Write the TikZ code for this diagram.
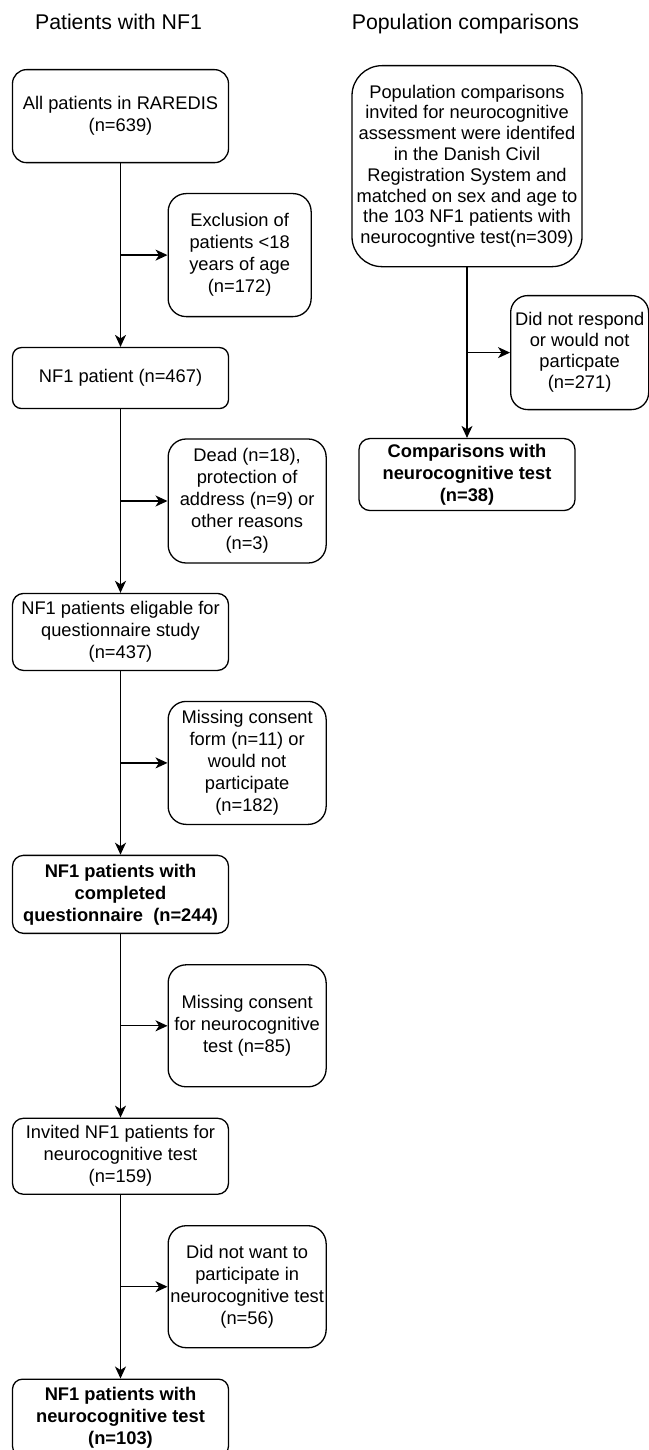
\documentclass[tikz,border=0pt]{standalone}
\usepackage{fontspec}
\setmainfont{Liberation Sans}
\usetikzlibrary{arrows.meta,positioning,calc}

\begin{document}
\begin{tikzpicture}[
  x=1pt, y=1pt,
  >={Stealth[length=12pt,width=11pt,inset=3.5pt]},
  every node/.style={align=center},
  mainbox/.style={rectangle, draw, rounded corners=11pt, minimum width=216pt, inner sep=2pt, line width=1.3pt, font=\fontsize{18.3}{22}\selectfont},
  boldbox/.style={mainbox, font=\fontsize{18.3}{22}\selectfont\bfseries},
  sidebox/.style={rectangle, draw, rounded corners=18pt, minimum width=158pt, inner sep=2pt, line width=1.3pt, font=\fontsize{18.3}{22}\selectfont},
  coltitle/.style={font=\fontsize{21.3}{25}\selectfont, anchor=base},
  flow/.style={->, line width=1.3pt},
  node distance=183.6pt
]
  \useasboundingbox (0,0) rectangle (648,-1450);

  % Patients with NF1 (left column)
  \node[coltitle] (ltitle) at (118.5,-30) {Patients with NF1};
  \node[mainbox, minimum height=93pt, rounded corners=14pt, anchor=north] (all) at (120.5,-69) {All patients in RAREDIS\\(n=639)};
  \node[mainbox, minimum height=61pt, rounded corners=9pt, below=of all] (nf1) {NF1 patient (n=467)};
  \node[mainbox, minimum height=77pt, below=of nf1] (elig) {NF1 patients eligable for\\questionnaire study\\(n=437)};
  \node[boldbox, minimum height=78pt, below=of elig] (quest) {NF1 patients with\\completed\\questionnaire\ \ (n=244)};
  \node[mainbox, minimum height=76pt, below=of quest] (invit) {Invited NF1 patients for\\neurocognitive test\\(n=159)};
  \node[boldbox, minimum height=77pt, rounded corners=10pt, below=of invit] (neuro) {NF1 patients with\\neurocognitive test\\(n=103)};

  % Exclusions (side boxes)
  \coordinate (j1) at ($(all.south)!0.5!(nf1.north)$);
  \coordinate (j2) at ($(nf1.south)!0.5!(elig.north)$);
  \coordinate (j3) at ($(elig.south)!0.5!(quest.north)$);
  \coordinate (j4) at ($(quest.south)!0.5!(invit.north)$);
  \coordinate (j5) at ($(invit.south)!0.5!(neuro.north)$);
  \node[sidebox, minimum width=143pt, minimum height=123pt, right=47pt of j1] (excl) {Exclusion of\\patients <18\\years of age\\(n=172)};
  \node[sidebox, minimum height=124pt, right=47pt of j2] (dead) {Dead (n=18),\\protection of\\address (n=9) or\\other reasons\\(n=3)};
  \node[sidebox, minimum height=123pt, right=47pt of j3] (consent) {Missing consent\\form (n=11) or\\would not\\participate\\(n=182)};
  \node[sidebox, minimum height=122pt, right=47pt of j4] (noconsent) {Missing consent\\for neurocognitive\\test (n=85)};
  \node[sidebox, minimum height=122pt, right=47pt of j5] (nowant) {Did not want to\\participate in\\neurocognitive test\\(n=56)};

  % Population comparisons (right column)
  \node[coltitle] (rtitle) at (465.5,-30) {Population comparisons};
  \node[mainbox, minimum width=230pt, minimum height=201pt, rounded corners=30pt, anchor=north, font=\fontsize{18.3}{20.8}\selectfont] (popinv) at (467,-65) {Population comparisons\\invited for neurocognitive\\assessment were identifed\\in the Danish Civil\\Registration System and\\matched on sex and age to\\the 103 NF1 patients with\\neurocogntive test(n=309)};
  \node[boldbox, minimum height=72pt, below=170.6pt of popinv] (compar) {Comparisons with\\neurocognitive test\\(n=38)};
  \coordinate (jr) at ($(popinv.south)!0.5!(compar.north)$);
  \node[sidebox, minimum width=138pt, minimum height=114pt, rounded corners=17pt, right=43pt of jr, font=\fontsize{18.3}{21}\selectfont] (noresp) {Did not respond\\or would not\\particpate\\(n=271)};

  % Connectors: main flow
  \draw[flow] (all) -- (nf1);
  \draw[flow] (nf1) -- (elig);
  \draw[flow] (elig) -- (quest);
  \draw[flow] (quest) -- (invit);
  \draw[flow] (invit) -- (neuro);
  \draw[flow] (popinv) -- (compar);

  % Connectors: exclusions
  \draw[flow] (j1) -- (excl);
  \draw[flow] (j2) -- (dead);
  \draw[flow] (j3) -- (consent);
  \draw[flow] (j4) -- (noconsent);
  \draw[flow] (j5) -- (nowant);
  \draw[flow] (jr) -- (noresp);
\end{tikzpicture}
\end{document}
